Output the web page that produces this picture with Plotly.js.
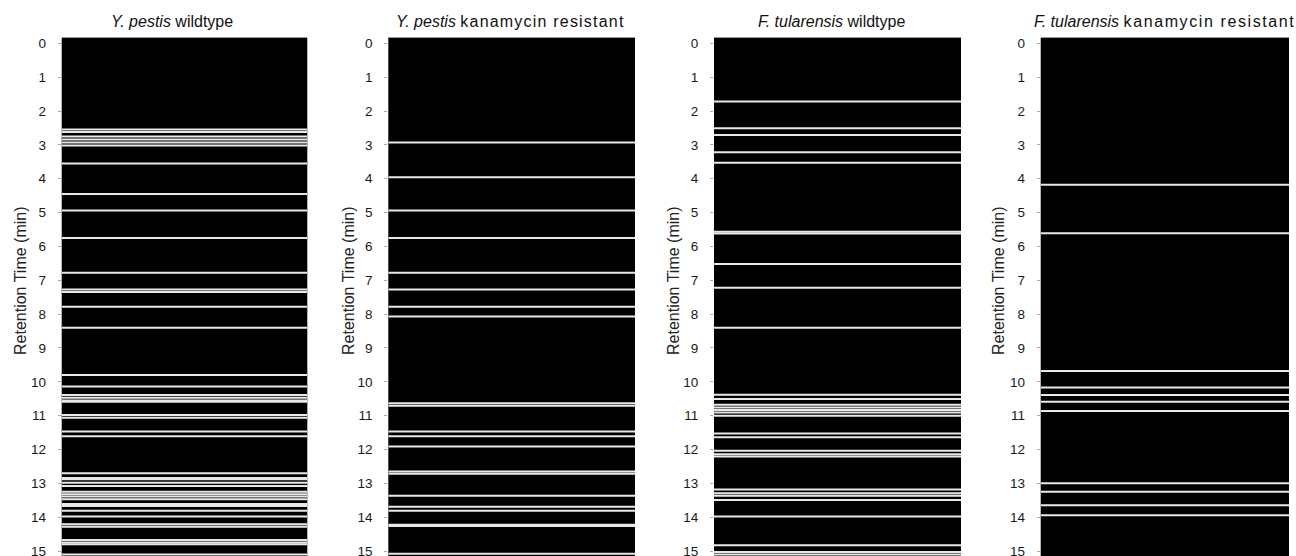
<!DOCTYPE html>
<html>
<head>
<meta charset="utf-8">
<script src="https://cdn.plot.ly/plotly-3.0.1.min.js"></script>
<style>html,body{margin:0;padding:0;background:#fff;}#chart{width:1296px;height:556px;}</style>
</head>
<body>
<div id="chart"></div>
<script>
// Retention times (min) of detected peaks, one array per sample
const yPestisWildtype = [2.55, 2.62, 2.75, 2.84, 2.93, 3.02, 3.55, 4.45, 4.94, 5.75, 6.78,
  7.27, 7.35, 7.78, 8.40, 9.80, 10.14, 10.39, 10.47, 10.55, 10.59, 10.98, 11.06, 11.47, 11.61,
  12.70, 12.84, 12.88, 12.98, 13.08, 13.25, 13.32, 13.39, 13.47, 13.61, 13.67, 13.81, 13.98,
  14.21, 14.28, 14.67, 14.75, 14.80, 15.10];
const yPestisKanamycin = [2.93, 3.96, 4.94, 5.75, 6.78, 7.27, 7.78, 8.07, 10.63, 10.71,
  11.47, 11.61, 11.91, 12.65, 12.72, 13.37, 13.69, 13.81, 14.22, 14.26, 15.08];
const fTularensisWildtype = [1.72, 2.51, 2.71, 3.22, 3.53, 5.57, 5.62, 6.52, 7.22, 8.40,
  10.38, 10.51, 10.68, 10.76, 10.83, 10.91, 11.00, 11.53, 11.64, 12.04, 12.14, 12.21,
  13.18, 13.29, 13.37, 13.49, 13.98, 14.83, 15.03, 15.10];
const fTularensisKanamycin = [4.18, 5.61, 9.68, 10.17, 10.39, 10.59, 10.86, 13.00, 13.25, 13.65, 13.94];

const panelTitles = [
  "<i>Y. pestis</i> wildtype",
  "<i>Y. pestis</i> <span style=\"letter-spacing:1.2px\">kanamycin resistant</span>",
  "<i>F. tularensis</i> wildtype",
  "<i>F. tularensis</i> <span style=\"letter-spacing:1.6px\">kanamycin resistant</span>"
];
const yAxisTitle = "Retention Time (min)";
const tickValues = [0,1,2,3,4,5,6,7,8,9,10,11,12,13,14,15];

const series = [yPestisWildtype, yPestisKanamycin, fTularensisWildtype, fTularensisKanamycin];

// layout geometry (pixels)
const W = 1296, H = 556;
const boxes = [[61.7, 307.3], [388.3, 635], [714, 961], [1040.7, 1289]];
const titleX = [171.5, 511, 831, 1164];
const axisTitleX = [20, 348, 673, 998];
const plotTop = 38;

const traces = series.map((vals, i) => {
  const xs = [], ys = [];
  vals.forEach(v => { xs.push(0, 1, null); ys.push(v, v, null); });
  return {
    type: 'scatter', mode: 'lines', x: xs, y: ys,
    xaxis: i === 0 ? 'x' : 'x' + (i + 1),
    yaxis: i === 0 ? 'y' : 'y' + (i + 1),
    line: {color: '#e8e8e8', width: 2},
    hoverinfo: 'y', connectgaps: false
  };
});

const layout = {
  width: W, height: H,
  margin: {l: 0, r: 0, t: 0, b: 0},
  paper_bgcolor: '#ffffff',
  plot_bgcolor: '#000000',
  showlegend: false,
  font: {family: 'Liberation Sans, Arial, sans-serif', color: '#222'},
  annotations: []
};

const tPerPx = 1 / 33.85, t0px = 43.3;
const yTop = (plotTop - t0px) * tPerPx;
const yBot = (H - t0px) * tPerPx;

boxes.forEach((b, i) => {
  const sfx = i === 0 ? '' : String(i + 1);
  layout['xaxis' + sfx] = {
    domain: [b[0] / W, b[1] / W], range: [0, 1],
    showticklabels: false, showgrid: false, zeroline: false,
    showline: true, mirror: true, linecolor: '#9a9a9a', linewidth: 1,
    ticks: '', fixedrange: true,
    anchor: 'y' + sfx
  };
  layout['yaxis' + sfx] = {
    domain: [0, (H - plotTop) / H], range: [yBot, yTop],
    tickvals: tickValues, ticktext: tickValues.map(String),
    ticks: 'outside', ticklen: 3, tickcolor: '#aaa', tickwidth: 1,
    ticklabelstandoff: 9,
    ticklabeloverflow: 'allow',
    tickfont: {size: 13.5, color: '#1a1a1a'},
    showgrid: false, zeroline: false, showline: false,
    fixedrange: true,
    anchor: 'x' + sfx
  };
  layout.annotations.push({
    text: panelTitles[i], xref: 'paper', yref: 'paper',
    x: titleX[i] / W, y: 1 - 21.7 / H, xanchor: 'center', yanchor: 'middle',
    showarrow: false, font: {size: 16, color: '#111'}
  });
  layout.annotations.push({
    text: yAxisTitle, xref: 'paper', yref: 'paper',
    x: axisTitleX[i] / W, y: 1 - 281 / H, xanchor: 'center', yanchor: 'middle',
    textangle: -90, showarrow: false, font: {size: 16, color: '#222'}
  });
});

Plotly.newPlot('chart', traces, layout, {displayModeBar: false, staticPlot: true});
</script>
</body>
</html>
